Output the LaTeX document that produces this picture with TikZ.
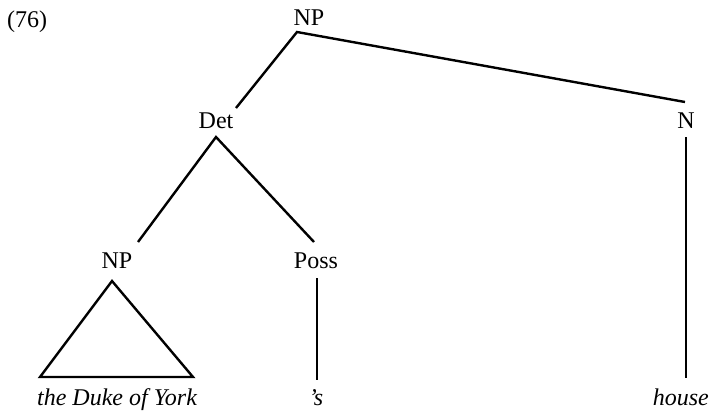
\documentclass[tikz,border=0pt]{standalone}
\usepackage{fontspec}
\setmainfont{Liberation Serif}
\begin{document}
\begin{tikzpicture}[x=1pt,y=-1pt,
  lbl/.style={anchor=base,inner sep=0pt,font=\fontsize{24}{28}\selectfont},
  leaf/.style={anchor=base,inner sep=0pt,font=\fontsize{24}{28}\selectfont\itshape},
  branch/.style={line width=2.4pt}]
\useasboundingbox (0,0) rectangle (711,413);

% example number
\node[lbl] (ex) at (27,27) {(76)};

% category labels
\node[lbl] (np)   at (309,25)  {NP};
\node[lbl] (det)  at (216,128) {Det};
\node[lbl] (n)    at (686,128) {N};
\node[lbl] (npl)  at (117,268) {NP};
\node[lbl] (poss) at (316,268) {Poss};

% terminal strings
\node[leaf] (york)  at (117,405) {the Duke of York};
\node[leaf] (apos)  at (316,405) {’s};
\node[leaf,anchor=base east] (house) at (709,405) {house};

% branch end points
\coordinate (np-b)    at (297,32);
\coordinate (det-t)   at (236,108);
\coordinate (det-b)   at (216,137);
\coordinate (n-t)     at (685,102);
\coordinate (n-b)     at (686,137);
\coordinate (npl-t)   at (138,242);
\coordinate (poss-t)  at (314,242);
\coordinate (poss-b)  at (317,278);
\coordinate (apos-t)  at (317,380);
\coordinate (house-t) at (686,378);
\coordinate (tri-top) at (112,281);
\coordinate (tri-l)   at (40,377);
\coordinate (tri-r)   at (193,377);

% branches
\draw[branch] (det-t) -- (np-b) -- (n-t);
\draw[branch] (npl-t) -- (det-b) -- (poss-t);
\draw[branch] (n-b) -- (house-t);
\draw[branch] (poss-b) -- (apos-t);
\draw[branch,line join=miter] (tri-top) -- (tri-r) -- (tri-l) -- cycle;
\end{tikzpicture}
\end{document}
